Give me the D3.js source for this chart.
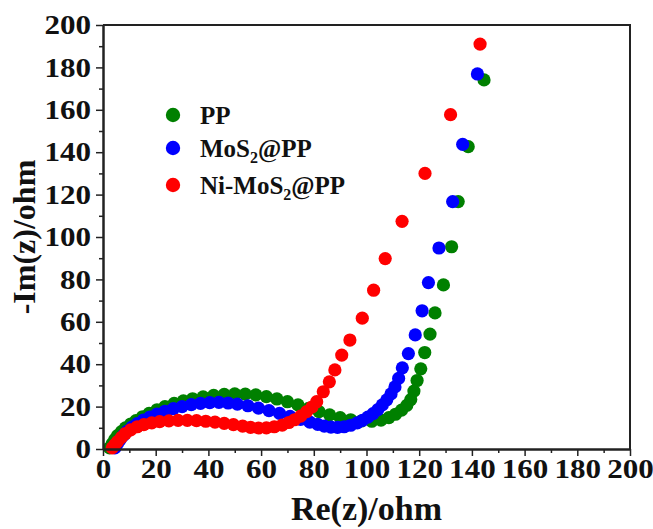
<!DOCTYPE html>
<html>
<head>
<meta charset="utf-8">
<script src="https://cdn.jsdelivr.net/npm/d3@7"></script>
<style>
  body { margin: 0; background: #fff; }
  svg { display: block; font-family: "Liberation Serif", "Times New Roman", serif; font-weight: bold; }
</style>
</head>
<body>
<div id="chart"></div>
<script>
// PP
const ppRe = [2.5, 3.5, 4.5, 5.5, 7, 8.5, 10.5, 12.5, 15, 17.5, 20.5, 23.5, 27, 30.5, 34, 38, 42, 46, 50, 54,
  58, 62, 66, 70, 74, 78, 82, 86, 90, 94, 98, 102, 105.5, 108.5, 111, 113.3, 115.3, 116.8, 118, 119.2,
  120.6, 122.1, 124.1, 126, 129.2, 132.3, 134.8, 138.6, 144.6];
const ppIm = [0.5, 2.5, 4.5, 6.3, 8.2, 10, 11.8, 13.4, 15.2, 16.8, 18.5, 20, 21.5, 22.7, 23.7, 24.6, 25.3, 25.8, 26, 25.9,
  25.5, 24.7, 23.6, 22.3, 20.8, 19.2, 17.6, 16.1, 14.8, 13.8, 13.2, 13.1, 13.6, 14.8, 16.4, 18.3, 20.6, 23.3, 27.3, 32.3,
  37.8, 45.5, 54.2, 64.2, 77.4, 95.4, 116.7, 142.6, 174.1];

// MoS2@PP
const mosRe = [4.5, 5.5, 6.5, 7.8, 9.3, 11, 13, 15.3, 17.8, 20.5, 23.5, 26.7, 30, 33.5, 37, 40.5, 44, 47.5, 51, 55,
  59, 63, 67, 71, 75, 78.5, 81.5, 84, 86.5, 89, 91.5, 94, 96.5, 98.5, 100.5, 102.5, 104.3, 106, 107.7, 109.3,
  110.8, 112.2, 113.6, 115.9, 118.5, 121.1, 123.5, 127.5, 132.7, 136.5, 142.1];
const mosIm = [0.5, 2.5, 4.5, 6.5, 8.5, 10.3, 12, 13.6, 15.1, 16.5, 17.8, 19, 20, 20.9, 21.5, 21.9, 22, 21.7, 21.2, 20.4,
  19.3, 18.1, 16.8, 15.4, 14, 12.7, 11.6, 10.8, 10.3, 10.2, 10.5, 11.2, 12.3, 13.5, 15, 16.7, 18.6, 20.8, 23.2, 26,
  29.3, 33.3, 38.3, 45, 53.8, 65.2, 78.5, 94.8, 116.7, 143.7, 176.9];

// Ni-MoS2@PP
const niRe = [3.5, 4.5, 5.5, 7, 8.5, 10.5, 13, 15.5, 18.5, 21.5, 25, 28.5, 32, 35.5, 39, 42.5, 46, 49.5, 53, 56,
  59, 62, 65, 68, 70.5, 72.7, 75, 77.3, 79.3, 81.1, 83.6, 85.9, 88, 90.6, 93.7, 98.4, 102.7, 107.1, 113.5, 122.2,
  131.9, 143.1];
const niIm = [0.5, 2, 3.5, 5.5, 7.3, 9, 10.5, 11.5, 12.3, 12.9, 13.3, 13.5, 13.5, 13.4, 13.1, 12.7, 12.1, 11.5, 10.8, 10.2,
  9.9, 10, 10.5, 11.3, 12.5, 13.8, 15.5, 17.6, 19.8, 22.3, 27, 31.7, 37.3, 44.3, 51.4, 61.7, 74.9, 89.8, 107.4, 130,
  157.7, 191];

const majorTicks = [0, 20, 40, 60, 80, 100, 120, 140, 160, 180, 200];
const minorTicks = [10, 30, 50, 70, 90, 110, 130, 150, 170, 190];

const series = [
  { name: 'PP', re: ppRe, im: ppIm, color: '#008000' },
  { name: 'MoS2@PP', re: mosRe, im: mosIm, color: '#0000ff' },
  { name: 'Ni-MoS2@PP', re: niRe, im: niIm, color: '#ff0000' }
];

const width = 653, height = 529;
const margin = { top: 25, right: 23, bottom: 80, left: 103 };
const innerW = width - margin.left - margin.right;
const innerH = height - margin.top - margin.bottom;
const stretch = 1.15; // tick labels in the source look horizontally widened

const svg = d3.select('#chart').append('svg')
  .attr('width', width)
  .attr('height', height);

svg.append('rect').attr('width', width).attr('height', height).attr('fill', '#fff');

const g = svg.append('g')
  .attr('transform', `translate(${margin.left},${margin.top})`);

const x = d3.scaleLinear().domain([0, 200]).range([0, innerW]);
const y = d3.scaleLinear().domain([0, 200]).range([innerH, 0]);

// data points
series.forEach(s => {
  g.append('g').selectAll('circle')
    .data(d3.zip(s.re, s.im))
    .enter()
    .append('circle')
    .attr('cx', d => x(d[0]))
    .attr('cy', d => y(d[1]))
    .attr('r', 6.6)
    .attr('fill', s.color);
});

// frame (top and right)
g.append('path')
  .attr('d', `M${x(0)},${y(200)}H${x(200)}V${y(0)}`)
  .attr('fill', 'none')
  .attr('stroke', '#222')
  .attr('stroke-width', 2);

// axes
g.append('g')
  .attr('class', 'x-axis')
  .attr('transform', `translate(0,${innerH})`)
  .call(d3.axisBottom(x).tickValues(majorTicks).tickSize(7).tickPadding(3).tickSizeOuter(0));
g.append('g')
  .attr('transform', `translate(0,${innerH})`)
  .call(d3.axisBottom(x).tickValues(minorTicks).tickSize(4).tickFormat('').tickSizeOuter(0));

g.append('g')
  .attr('class', 'y-axis')
  .call(d3.axisLeft(y).tickValues(majorTicks).tickSize(7).tickPadding(5).tickSizeOuter(0));
g.append('g')
  .call(d3.axisLeft(y).tickValues(minorTicks).tickSize(4).tickFormat('').tickSizeOuter(0));

g.selectAll('.domain').attr('stroke', '#222').attr('stroke-width', 2);
g.selectAll('.tick line').attr('stroke', '#222').attr('stroke-width', 1.5);
g.selectAll('.tick text')
  .attr('fill', '#111')
  .style('font-family', '"Liberation Serif", serif')
  .style('font-weight', 'bold')
  .style('font-size', '27px');

g.selectAll('.x-axis .tick text')
  .attr('transform', `scale(${stretch},1)`);
g.selectAll('.y-axis .tick text')
  .attr('x', 0)
  .attr('transform', `translate(-12,0) scale(${stretch},1)`);

// axis titles
svg.append('text')
  .attr('x', margin.left + x(100))
  .attr('y', 520)
  .attr('text-anchor', 'middle')
  .style('font-size', '34px')
  .attr('fill', '#111')
  .text('Re(z)/ohm');

svg.append('text')
  .attr('transform', `translate(35,${margin.top + y(100)}) rotate(-90)`)
  .attr('text-anchor', 'middle')
  .style('font-size', '32px')
  .attr('fill', '#111')
  .text('-Im(z)/ohm');

// legend
const legendY = [115, 148, 185];
const legend = svg.append('g');
series.forEach((s, i) => {
  legend.append('circle')
    .attr('cx', 173)
    .attr('cy', legendY[i])
    .attr('r', 7.2)
    .attr('fill', s.color);
  const t = legend.append('text')
    .attr('x', 200)
    .attr('y', legendY[i] + 9)
    .style('font-size', '25px')
    .attr('fill', '#111');
  const m = s.name.match(/^(.*S)2(@PP)$/);
  if (m) {
    t.append('tspan').text(m[1]);
    t.append('tspan').attr('dy', 6).style('font-size', '16px').text('2');
    t.append('tspan').attr('dy', -6).text(m[2]);
  } else {
    t.text(s.name);
  }
});
</script>
</body>
</html>
